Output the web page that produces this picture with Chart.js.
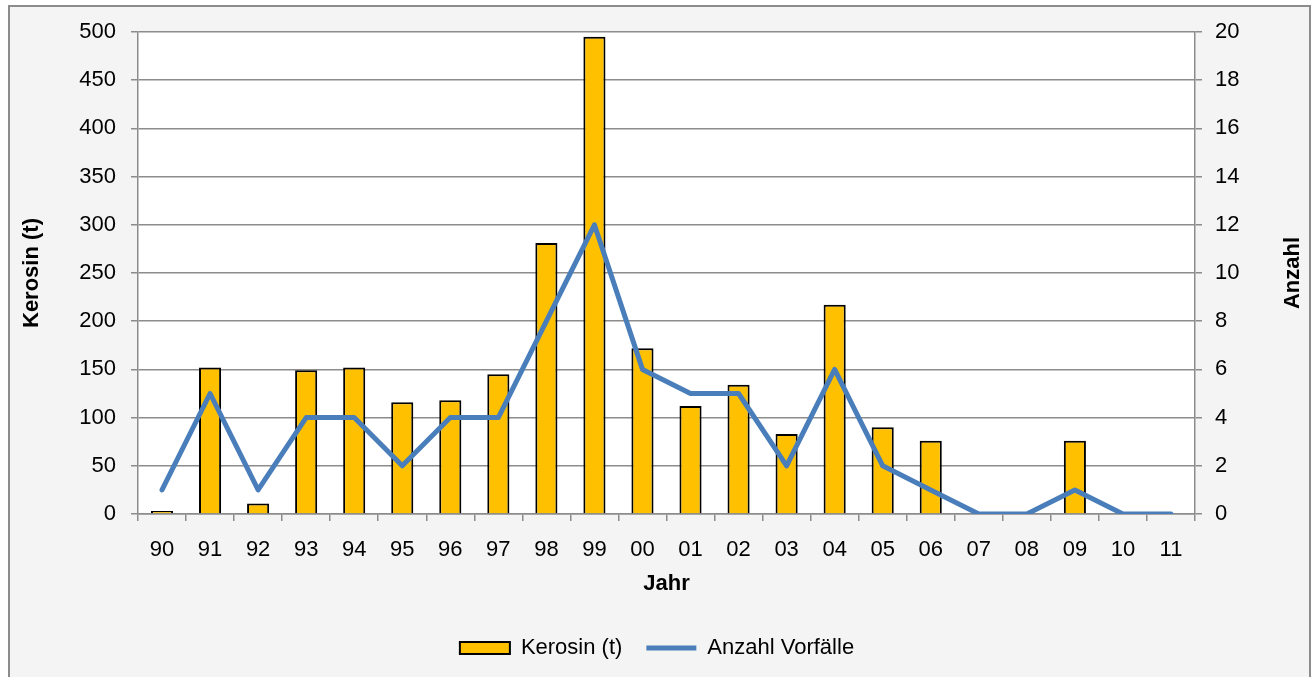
<!DOCTYPE html>
<html>
<head>
<meta charset="utf-8">
<script src="https://cdn.jsdelivr.net/npm/chart.js@4/dist/chart.umd.min.js"></script>
<style>
  html, body { margin: 0; padding: 0; background: #ffffff; }
  #wrap { width: 1314px; height: 677px; }
</style>
</head>
<body>
<div id="wrap"><canvas id="kerosinChart" width="1314" height="677"></canvas></div>
<script>
const jahre = ['90', '91', '92', '93', '94', '95', '96', '97', '98', '99', '00',
               '01', '02', '03', '04', '05', '06', '07', '08', '09', '10', '11'];
const kerosin = [3, 152, 11, 149, 152, 116, 118, 145, 281, 495, 172,
                 112, 134, 83, 217, 90, 76, 0, 0, 76, 0, 0];
const vorfaelle = [1, 5, 1, 4, 4, 2, 4, 4, 8, 12, 6,
                   5, 5, 2, 6, 2, 1, 0, 0, 1, 0, 0];

const gridGrey = '#8c8c8c';
const fontFam = '"Liberation Sans", Arial, sans-serif';

// frame + white plot area, and the right axis title (reads bottom to top like the left one)
const backdrop = {
    id: 'backdrop',
    beforeDraw(chart) {
        const ctx = chart.ctx;
        const a = chart.chartArea;
        ctx.save();
        ctx.fillStyle = '#ffffff';
        ctx.fillRect(0, 0, chart.width, chart.height);
        ctx.fillStyle = '#f4f4f4';
        ctx.fillRect(9, 6, 1301, 680);
        ctx.strokeStyle = '#8c8c8c';
        ctx.lineWidth = 2;
        ctx.strokeRect(9, 6, 1301, 680);
        ctx.fillStyle = '#ffffff';
        ctx.fillRect(a.left, a.top, a.right - a.left, a.bottom - a.top);
        ctx.restore();
    },
    afterDraw(chart) {
        const ctx = chart.ctx;
        const a = chart.chartArea;
        ctx.save();
        ctx.translate(1293, (a.top + a.bottom) / 2);
        ctx.rotate(-Math.PI / 2);
        ctx.font = 'bold 22px ' + fontFam;
        ctx.fillStyle = '#000000';
        ctx.textAlign = 'center';
        ctx.textBaseline = 'middle';
        ctx.fillText('Anzahl', 0, 0);
        ctx.restore();
    }
};

new Chart(document.getElementById('kerosinChart'), {
    type: 'bar',
    data: {
        labels: jahre,
        datasets: [
            {
                type: 'line',
                label: 'Anzahl Vorfälle',
                data: vorfaelle,
                yAxisID: 'y1',
                borderColor: '#4a7ebb',
                backgroundColor: '#4a7ebb',
                borderWidth: 5,
                pointRadius: 0,
                pointStyle: 'line',
                tension: 0,
                borderJoinStyle: 'round',
                borderCapStyle: 'round',
                order: 0
            },
            {
                label: 'Kerosin (t)',
                data: kerosin,
                yAxisID: 'y',
                backgroundColor: '#ffc000',
                borderColor: '#000000',
                borderWidth: 2,
                pointStyle: 'rect',
                barPercentage: 0.46,
                categoryPercentage: 1,
                order: 1
            }
        ]
    },
    options: {
        responsive: false,
        animation: false,
        layout: { padding: { left: 0, right: 0, top: 32, bottom: 8 } },
        plugins: {
            legend: {
                position: 'bottom',
                reverse: true,
                labels: {
                    usePointStyle: true,
                    pointStyleWidth: 50,
                    boxHeight: 12,
                    padding: 24,
                    color: '#000000',
                    font: { family: fontFam, size: 22 }
                }
            },
            tooltip: { enabled: false }
        },
        scales: {
            x: {
                afterFit(scale) { scale.height = 99; },
                grid: {
                    offset: true,
                    drawOnChartArea: false,
                    tickLength: 7,
                    color: gridGrey,
                    lineWidth: 1.5
                },
                border: { color: gridGrey, width: 1.5 },
                ticks: {
                    color: '#000000',
                    padding: 16,
                    maxRotation: 0,
                    font: { family: fontFam, size: 22 }
                },
                title: {
                    display: true,
                    text: 'Jahr',
                    color: '#000000',
                    padding: { top: 0, bottom: 16 },
                    font: { family: fontFam, size: 22, weight: 'bold' }
                }
            },
            y: {
                position: 'left',
                min: 0,
                max: 500,
                afterFit(scale) { scale.width = 138; },
                grid: {
                    color: gridGrey,
                    lineWidth: 1.5,
                    tickLength: 7
                },
                border: { color: gridGrey, width: 1.5 },
                ticks: {
                    stepSize: 50,
                    color: '#000000',
                    padding: 15,
                    font: { family: fontFam, size: 22 }
                },
                title: {
                    display: true,
                    text: 'Kerosin (t)',
                    color: '#000000',
                    padding: { top: 19, bottom: 0 },
                    font: { family: fontFam, size: 22, weight: 'bold' }
                }
            },
            y1: {
                position: 'right',
                min: 0,
                max: 20,
                afterFit(scale) { scale.width = 119; },
                grid: {
                    drawOnChartArea: false,
                    color: gridGrey,
                    lineWidth: 1.5,
                    tickLength: 7
                },
                border: { color: gridGrey, width: 1.5 },
                ticks: {
                    stepSize: 2,
                    color: '#000000',
                    padding: 13,
                    font: { family: fontFam, size: 22 }
                }
            }
        }
    },
    plugins: [backdrop]
});
</script>
</body>
</html>
